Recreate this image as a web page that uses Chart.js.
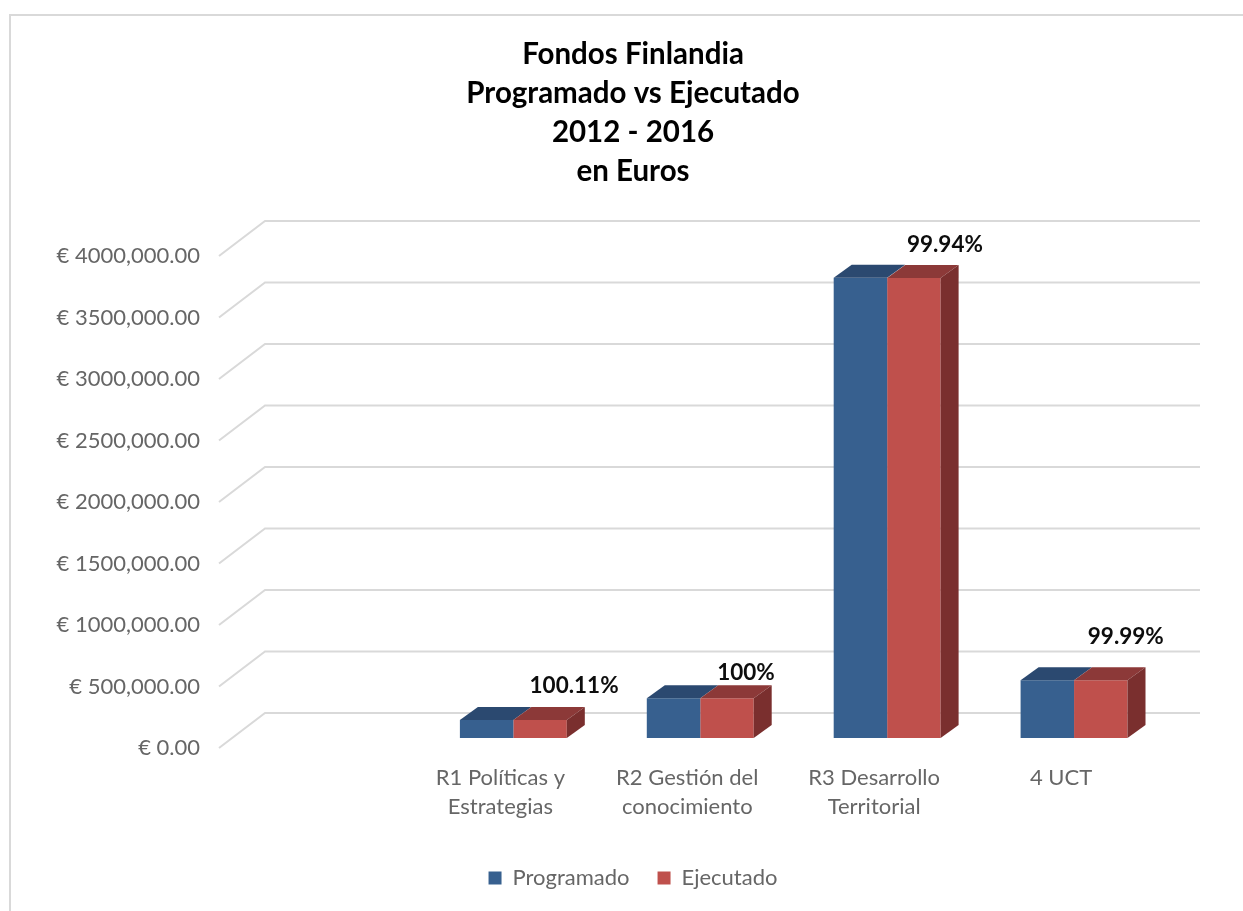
<!DOCTYPE html>
<html lang="es">
<head>
<meta charset="UTF-8">
<title>Fondos Finlandia</title>
<script src="https://cdnjs.cloudflare.com/ajax/libs/Chart.js/4.4.1/chart.umd.js"></script>
<style>
    html, body { margin: 0; padding: 0; background: #fff; overflow: hidden; }
    #frame { position: fixed; left: 9px; top: 14px; right: -5px; bottom: -5px; border: 2px solid #d9d9d9; }
    #myChart { position: fixed; left: 0; top: 0; }
</style>
</head>
<body>
<div id="frame"></div>
<canvas id="myChart" width="1243" height="911"></canvas>
<script>
const titleLines = ['Fondos Finlandia', 'Programado vs Ejecutado', '2012 - 2016', 'en Euros'];
const categories = ['', ['R1 Políticas y', 'Estrategias'], ['R2 Gestión del', 'conocimiento'], ['R3 Desarrollo', 'Territorial'], '4 UCT'];
const programado = [null, 146000, 323000, 3742000, 470000];
const ejecutado = [null, 146000, 323000, 3740000, 470000];
const percentLabels = ['', '100.11%', '100%', '99.94%', '99.99%'];
const yTickLabels = ['€ 0.00', '€ 500,000.00', '€ 1000,000.00', '€ 1500,000.00', '€ 2000,000.00',
    '€ 2500,000.00', '€ 3000,000.00', '€ 3500,000.00', '€ 4000,000.00'];

const FONT = 'Lato, Carlito, sans-serif';
const GREY = '#666666';
const PLOT_LEFT = 233, PLOT_RIGHT = 1167.5;

// wall depth of the fake 3D box, and depth of the bars (they sit inside it)
const WALL = { dx: 46, dy: -35, right: 1200 };
const BAR = { dx: 18, dy: -13 };
// the bars stand this many px above the front edge of the floor
const BAR_LIFT = 10;
const AXIS_MAX = 4000000, AXIS_PX = 491;

const FACES = [
    { front: '#37608f', top: '#2b4970' },
    { front: '#bf504c', top: '#8c3938', side: '#7a2f2e' }
];

// nudges of the percent labels, from the top centre of the red bar
const LABEL_NUDGE = [null, [34, -34], [19, -26], [31, -33], [25, -43]];

const walls = {
    id: 'walls',
    beforeDatasetsDraw(chart) {
        const ctx = chart.ctx, y = chart.scales.y;
        ctx.save();
        ctx.strokeStyle = '#d9d9d9';
        ctx.lineWidth = 2;
        y.ticks.forEach(t => {
            const py = y.getPixelForValue(t.value);
            ctx.beginPath();
            ctx.moveTo(chart.chartArea.left - 14, py);
            ctx.lineTo(chart.chartArea.left - 14 + WALL.dx, py + WALL.dy);
            ctx.lineTo(WALL.right, py + WALL.dy);
            ctx.stroke();
        });
        ctx.restore();
    }
};

function poly(ctx, pts, color) {
    ctx.fillStyle = color;
    ctx.beginPath();
    pts.forEach((p, i) => i ? ctx.lineTo(p[0], p[1]) : ctx.moveTo(p[0], p[1]));
    ctx.closePath();
    ctx.fill();
}

const bars3d = {
    id: 'bars3d',
    afterDatasetsDraw(chart) {
        const ctx = chart.ctx;
        ctx.save();
        chart.data.datasets.forEach((ds, d) => {
            chart.getDatasetMeta(d).data.forEach((bar, i) => {
                if (ds.data[i] == null) return;
                const l = bar.x - bar.width / 2, r = bar.x + bar.width / 2;
                poly(ctx, [[l, bar.y], [r, bar.y], [r + BAR.dx, bar.y + BAR.dy], [l + BAR.dx, bar.y + BAR.dy]], FACES[d].top);
                if (FACES[d].side) {
                    poly(ctx, [[r, bar.y], [r + BAR.dx, bar.y + BAR.dy], [r + BAR.dx, bar.base + BAR.dy], [r, bar.base]], FACES[d].side);
                }
            });
        });
        // percent labels
        const red = chart.getDatasetMeta(1).data;
        ctx.fillStyle = '#0d0d0d';
        ctx.font = 'bold 22.5px ' + FONT;
        ctx.textAlign = 'center';
        ctx.textBaseline = 'middle';
        percentLabels.forEach((txt, i) => {
            if (!txt) return;
            ctx.fillText(txt, red[i].x + LABEL_NUDGE[i][0], red[i].y + LABEL_NUDGE[i][1]);
        });
        ctx.restore();
    }
};

new Chart(document.getElementById('myChart').getContext('2d'), {
    type: 'bar',
    data: {
        labels: categories,
        datasets: [
            { label: 'Programado', data: programado, backgroundColor: FACES[0].front, yAxisID: 'yBars' },
            { label: 'Ejecutado', data: ejecutado, backgroundColor: FACES[1].front, yAxisID: 'yBars' }
        ]
    },
    plugins: [walls, bars3d],
    options: {
        responsive: false,
        animation: false,
        categoryPercentage: 0.572,
        barPercentage: 1,
        // left minus right padding puts title and legend on the picture's centre line
        layout: { padding: { left: 26, right: 3, top: 0, bottom: 12 } },
        plugins: {
            tooltip: { enabled: false },
            title: {
                display: true,
                text: titleLines,
                color: '#000',
                font: { family: FONT, size: 29.5, weight: 'bold', lineHeight: 39 / 29.5 },
                padding: { top: 34.5, bottom: 65.5 }
            },
            legend: {
                position: 'bottom',
                labels: {
                    boxWidth: 13, boxHeight: 13, padding: 28,
                    color: GREY,
                    font: { family: FONT, size: 22 }
                }
            }
        },
        scales: {
            x: {
                grid: { display: false },
                border: { display: false },
                ticks: {
                    autoSkip: false, maxRotation: 0, minRotation: 0,
                    labelOffset: -13, padding: 7,
                    color: GREY,
                    font: { family: FONT, size: 22, lineHeight: 29 / 22 }
                },
                afterFit(s) { s.height = 91; }
            },
            y: {
                min: 0, max: AXIS_MAX,
                grid: { display: false },
                border: { display: false },
                ticks: {
                    stepSize: 500000, padding: 25,
                    color: GREY,
                    font: { family: FONT, size: 22 },
                    callback: (v, i) => yTickLabels[i]
                },
                afterFit(s) { s.width = PLOT_LEFT - 26; }
            },
            // bars run on their own scale, same px per euro, lifted off the floor edge
            yBars: {
                axis: 'y',
                position: 'right',
                min: -BAR_LIFT / AXIS_PX * AXIS_MAX,
                max: AXIS_MAX - BAR_LIFT / AXIS_PX * AXIS_MAX,
                grid: { display: false },
                border: { display: false },
                ticks: { display: false },
                afterFit(s) { s.width = 1243 - 3 - PLOT_RIGHT; }
            }
        }
    }
});
</script>
</body>
</html>
